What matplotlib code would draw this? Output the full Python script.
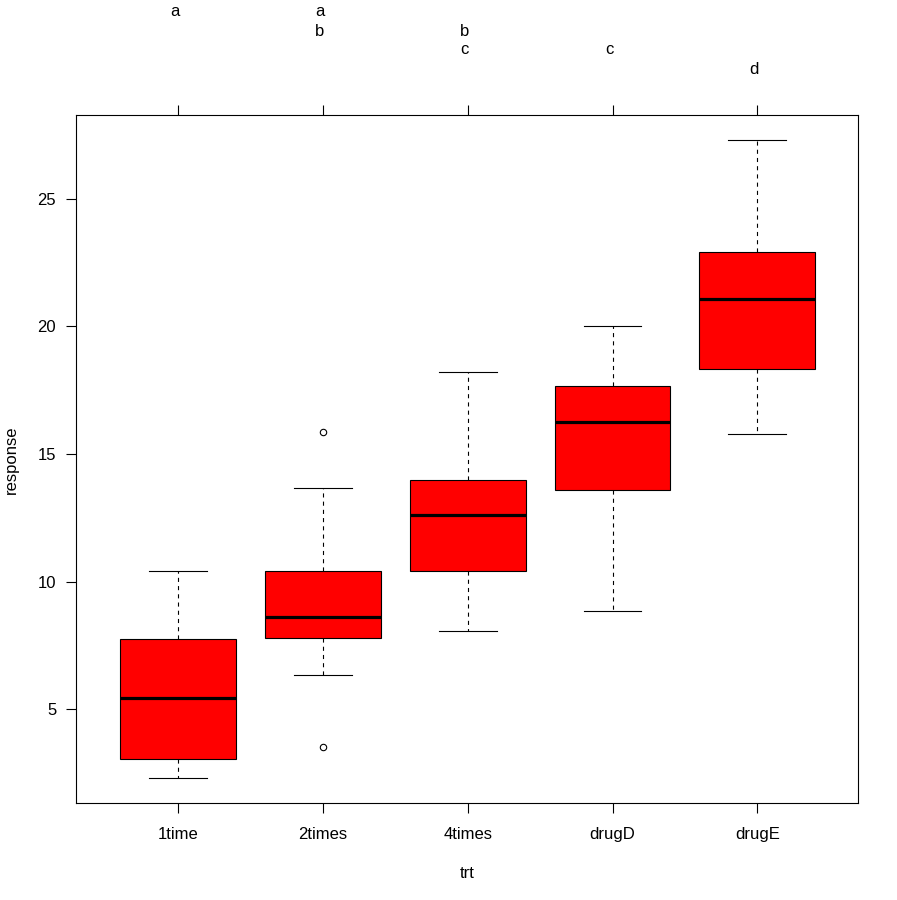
import matplotlib
matplotlib.use("Agg")
import matplotlib.pyplot as plt

plt.rcParams['font.family'] = ['Liberation Sans', 'DejaVu Sans']

# ---- data ----
groups = ["1time", "2times", "4times", "drugD", "drugE"]
whis_lo = [2.30, 6.33, 8.06, 8.84, 15.77]
q1 = [3.04, 7.78, 10.41, 13.58, 18.32]
median = [5.43, 8.60, 12.60, 16.24, 21.06]
q3 = [7.74, 10.41, 13.97, 17.65, 22.90]
whis_hi = [10.41, 13.66, 18.20, 20.00, 27.29]
outliers = [[], [3.51, 15.85], [], [], []]
cld_letters = ["a", "ab", "bc", "c", "d"]
y_ticks = [5, 10, 15, 20, 25]
x_label = "trt"
y_label = "response"

W, H, DPI = 897, 900, 100
fig = plt.figure(figsize=(W / DPI, H / DPI), dpi=DPI)
left, right, top, bottom = 76.3, 858.3, 115.3, 803.3
ax = fig.add_axes([left / W, 1 - bottom / H, (right - left) / W, (bottom - top) / H])

stats = []
for i, g in enumerate(groups):
    stats.append(dict(label=g, whislo=whis_lo[i], q1=q1[i], med=median[i],
                      q3=q3[i], whishi=whis_hi[i], fliers=outliers[i]))

positions = list(range(1, len(groups) + 1))
lw = 0.8
ax.bxp(stats, positions=positions, widths=0.8, capwidths=0.4,
       patch_artist=True, showfliers=True,
       boxprops=dict(facecolor='#FF0000', edgecolor='black', linewidth=lw),
       medianprops=dict(color='black', linewidth=2.3, solid_capstyle='butt'),
       whiskerprops=dict(color='black', linewidth=lw, linestyle=(0, (3.7, 3.7))),
       capprops=dict(color='black', linewidth=lw),
       flierprops=dict(marker='o', markerfacecolor='none', markeredgecolor='black',
                       markersize=4.6, markeredgewidth=lw, linestyle='none'))

ax.set_xlim(0.295, 5.698)
ax.set_ylim(1.32, 28.27)
ax.set_xticks(positions)
ax.set_xticklabels(groups)
ax.set_yticks(y_ticks)
ax.set_yticklabels([str(t) for t in y_ticks])

for s in ax.spines.values():
    s.set_linewidth(lw)
ax.tick_params(axis='both', direction='out', length=7, width=lw, labelsize=12, colors='black')
ax.tick_params(axis='x', pad=10, top=True, labeltop=False)
ax.tick_params(axis='y', pad=7.5)

ax.set_xlabel(x_label, fontsize=12)
ax.xaxis.set_label_coords(0.5, -0.091)
ax.set_ylabel(y_label, fontsize=12)
ax.yaxis.set_label_coords(-0.0735, 0.5)

# compact letter display above the top axis
for pos, letters in zip(positions, cld_letters):
    for l in letters:
        row = ord(l) - ord('a')
        ax.annotate(l, xy=(pos, 1 - (16.5 + 19 * row) / H),
                    xycoords=('data', 'figure fraction'),
                    xytext=(-2.2, 0), textcoords='offset points',
                    ha='center', va='baseline', fontsize=12, annotation_clip=False)

fig.savefig("out.png", dpi=DPI)
